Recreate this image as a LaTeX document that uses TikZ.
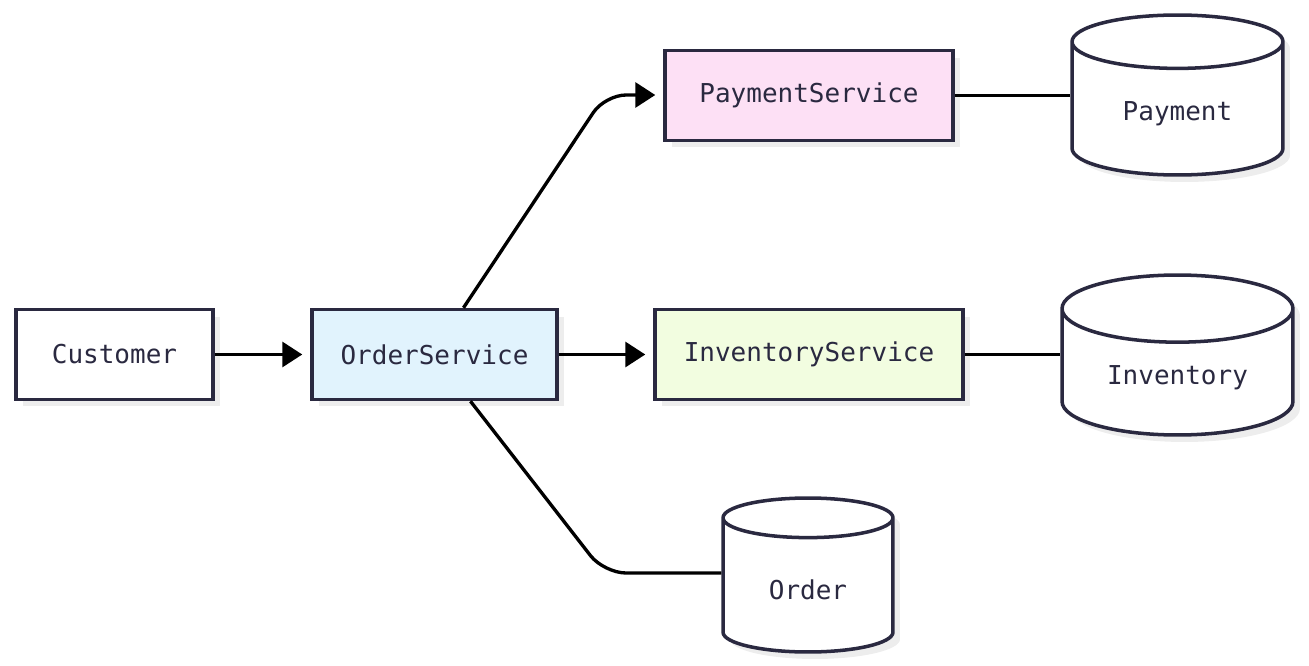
\documentclass[tikz,border=0pt]{standalone}
\usepackage{fontspec}
\setmonofont{DejaVu Sans Mono}
\usepackage{tikz}
\usetikzlibrary{arrows.meta,positioning,shapes.geometric,shadows}
\definecolor{ink}{HTML}{2A2940}
\definecolor{shade}{HTML}{EDEDED}
\definecolor{ordfill}{HTML}{E1F3FD}
\definecolor{payfill}{HTML}{FDE0F5}
\definecolor{invfill}{HTML}{F2FDE0}

\begin{document}
\begin{tikzpicture}[x=0.02cm,y=-0.02cm,
  txt/.style={text=ink,font=\ttfamily\fontsize{14.8}{17}\selectfont},
  box/.style={txt,draw=ink,line width=2pt,minimum height=1.8cm,
    drop shadow={shadow xshift=0.14cm,shadow yshift=-0.14cm,fill=shade,opacity=1}},
  db/.style={txt,cylinder,shape border rotate=90,aspect=0.44,draw=ink,fill=white,
    line width=2pt,anchor=shape center,
    drop shadow={shadow xshift=0.14cm,shadow yshift=-0.14cm,fill=shade,opacity=1}},
  link/.style={line width=1.9pt},
  flow/.style={link,-{Triangle[length=0.4cm,width=0.5cm]},shorten >=0.16cm}]
\useasboundingbox (0,0) rectangle (1309,666);
% services
\node[box,fill=white,minimum width=3.94cm] (cust) at (114.5,354.5) {Customer};
\node[box,fill=ordfill,minimum width=4.9cm] (osvc) at (434.5,354.5) {OrderService};
\node[box,fill=payfill,minimum width=5.76cm] (psvc) at (809,95.5) {PaymentService};
\node[box,fill=invfill,minimum width=6.16cm] (isvc) at (809,354.5) {InventoryService};
% databases
\node[db,minimum width=4.22cm,minimum height=3.2cm] (paydb) at (1177.5,95) {Payment};
\node[db,minimum width=4.62cm,minimum height=3.2cm] (invdb) at (1177.5,355) {Inventory};
\node[db,minimum width=3.4cm,minimum height=3.08cm] (orddb) at (808,575) {Order};
\coordinate (pbend) at (605,95);
\coordinate (obend) at (604,573);
% links
\draw[flow] (cust) -- (osvc);
\draw[flow] (osvc) -- (isvc);
\draw[flow,rounded corners=0.42cm] ([xshift=0.58cm]osvc.north) -- (pbend) -- (pbend -| psvc.west);
\draw[link,rounded corners=0.44cm] ([xshift=0.72cm]osvc.south) -- (obend) -- (obend -| orddb.west);
\draw[link] (psvc.east) -- (psvc.east -| paydb.west);
\draw[link] (isvc.east) -- (isvc.east -| invdb.west);
\end{tikzpicture}
\end{document}
